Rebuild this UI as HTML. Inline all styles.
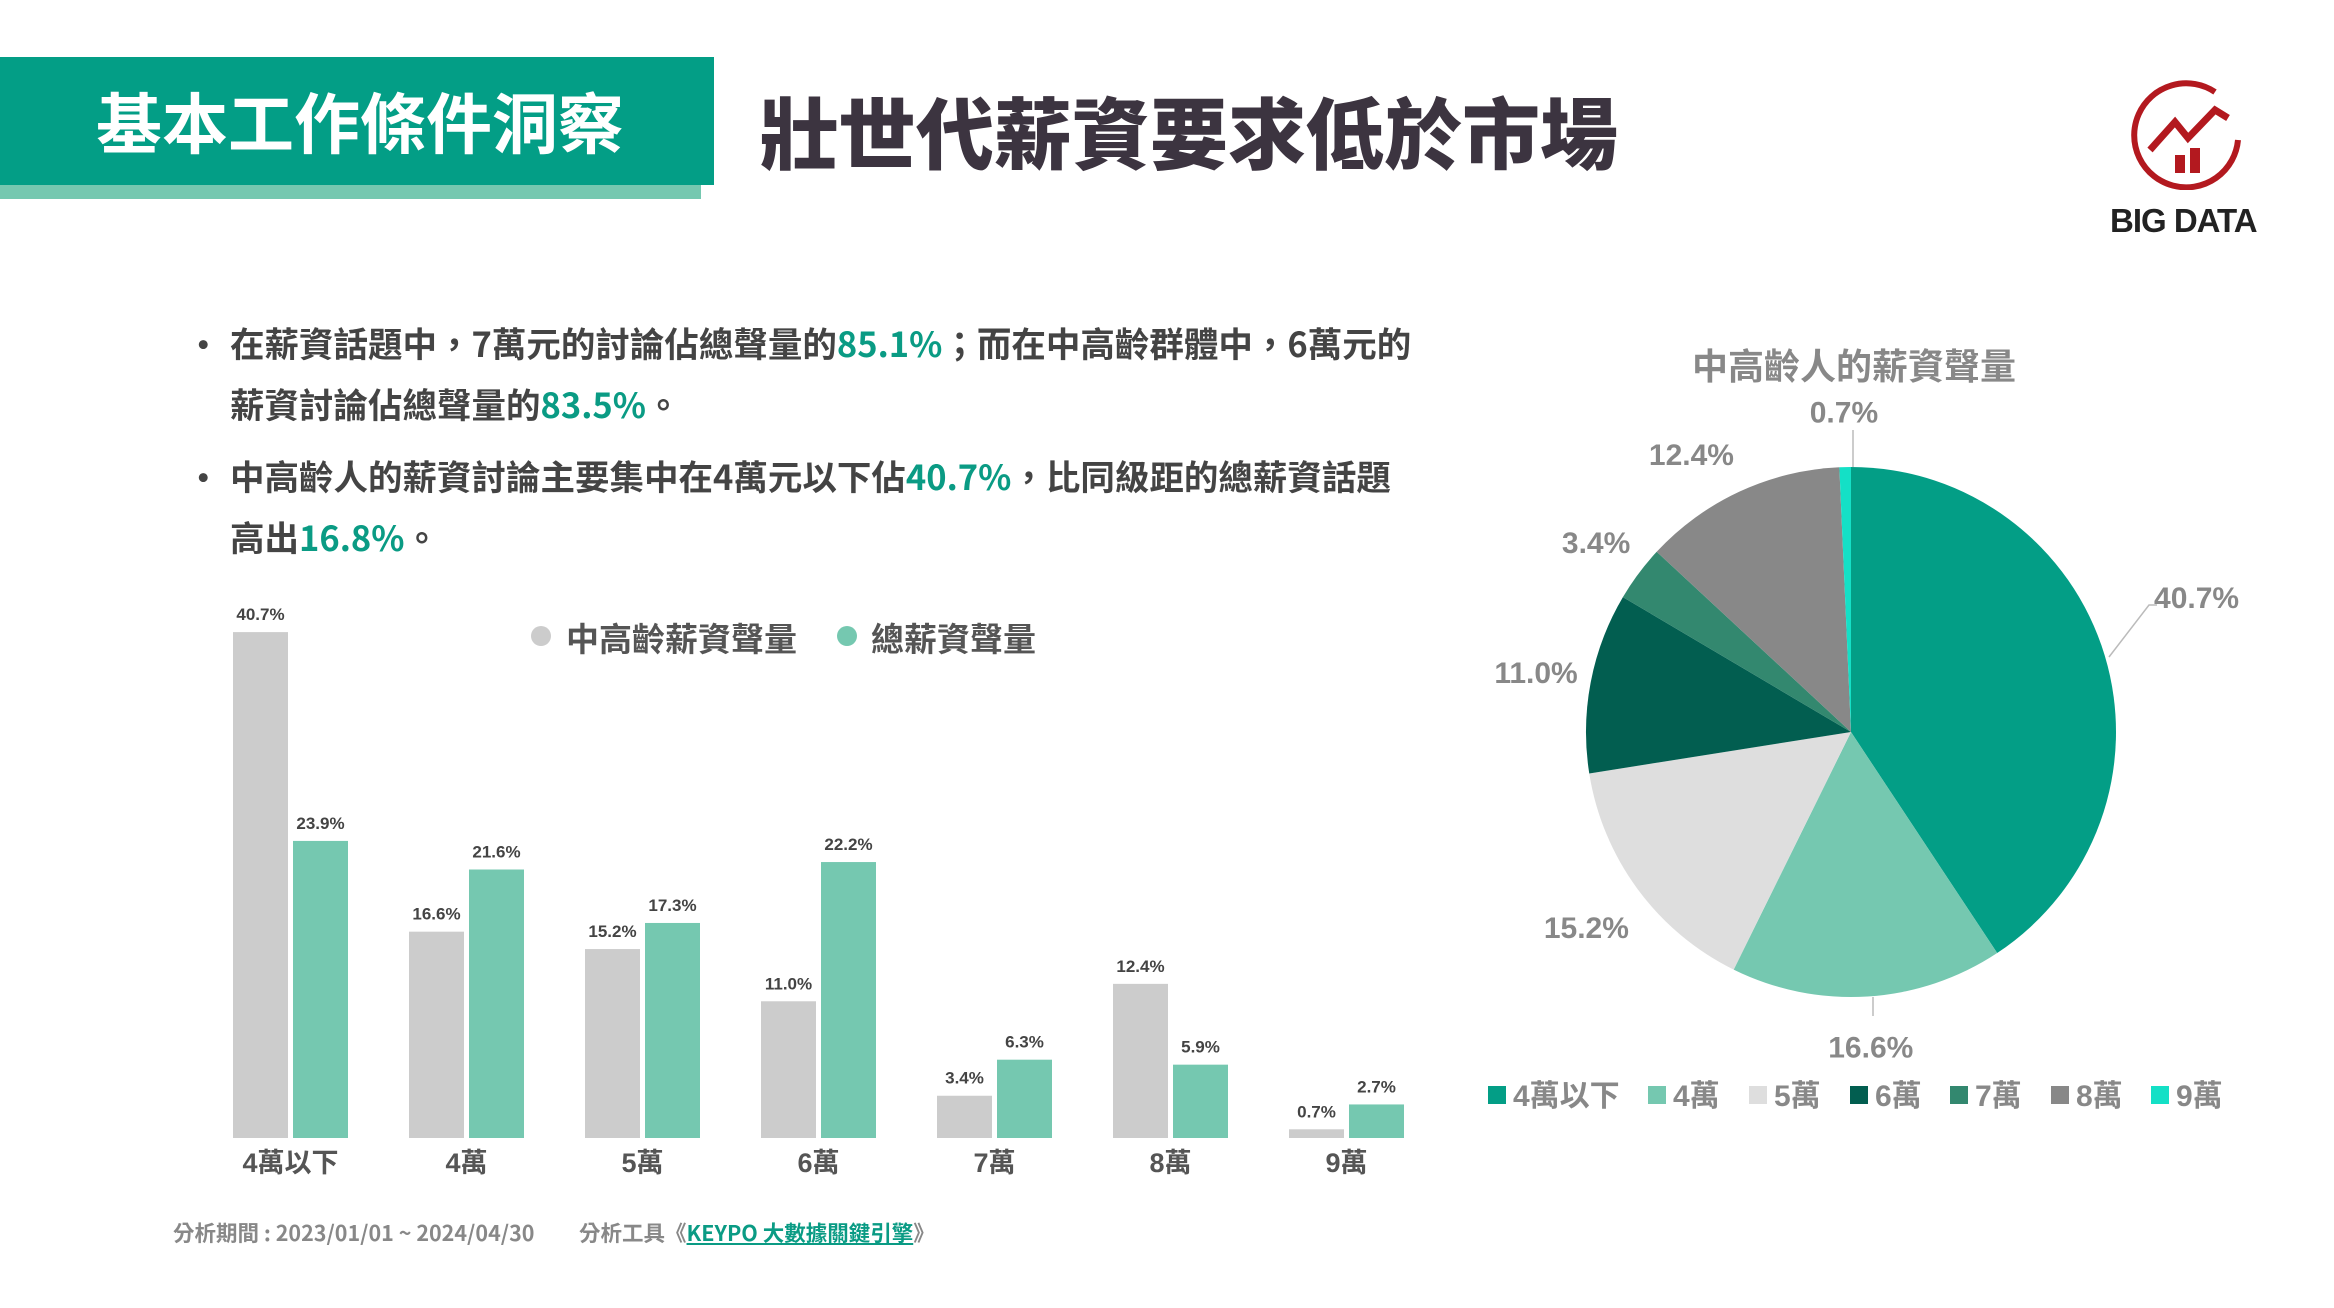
<!DOCTYPE html>
<html><head><meta charset="utf-8"><style>
body{margin:0;width:2334px;height:1308px;background:#fff;overflow:hidden;position:relative;font-family:"Liberation Sans","Noto Sans CJK TC",sans-serif;}
.a{position:absolute;white-space:nowrap}
.g{color:#0a9b84}
</style></head><body>
<div class="a" style="left:0;top:57px;width:714px;height:128px;background:#039e86"></div>
<div class="a" style="left:0;top:185px;width:701px;height:14px;background:#75c8b0"></div>
<div class="a" style="left:96px;top:80px;font-size:66px;font-weight:bold;color:#fff;line-height:80px;font-family:'Noto Sans CJK TC',sans-serif">基本工作條件洞察</div>
<div class="a" style="left:760px;top:82px;font-size:78px;font-weight:900;color:#3c3440;line-height:96px;font-family:'Noto Sans CJK TC',sans-serif">壯世代薪資要求低於市場</div>
<svg class="a" style="left:2130px;top:80px" width="120" height="110" viewBox="0 0 120 110">
<path d="M85 12 A52 52 0 1 0 108 60" fill="none" stroke="#b3191f" stroke-width="6"/>
<path d="M20 70 L45 42 L58 58 L85 30 L98 38" fill="none" stroke="#b3191f" stroke-width="7"/>
<rect x="45" y="75" width="10" height="18" fill="#b3191f"/><rect x="60" y="68" width="10" height="25" fill="#b3191f"/>
</svg>
<div class="a" style="left:2110px;top:202px;font-size:33px;color:#222;letter-spacing:-1px;font-weight:bold">BIG DATA</div>

<div style="font-family:'Noto Sans CJK TC',sans-serif;font-weight:bold;color:#444;font-size:34.5px">
<div class="a" style="left:186px;top:318px">•</div>
<div class="a" style="left:230px;top:317px">在薪資話題中，7萬元的討論佔總聲量的<span class="g">85.1%</span>；而在中高齡群體中，6萬元的</div>
<div class="a" style="left:230px;top:378px">薪資討論佔總聲量的<span class="g">83.5%</span>。</div>
<div class="a" style="left:186px;top:451px">•</div>
<div class="a" style="left:230px;top:450px">中高齡人的薪資討論主要集中在4萬元以下佔<span class="g">40.7%</span>，比同級距的總薪資話題</div>
<div class="a" style="left:230px;top:511px">高出<span class="g">16.8%</span>。</div>
</div>

<svg id="bar" class="a" style="left:0;top:0" width="1420" height="1308"></svg>
<div class="a" style="left:173px;top:1217px;font-size:21.5px;color:#888;font-weight:bold;font-family:'Noto Sans CJK TC',sans-serif">分析期間 : 2023/01/01 ~ 2024/04/30</div>
<div class="a" style="left:579px;top:1217px;font-size:21.5px;color:#888;font-weight:bold;font-family:'Noto Sans CJK TC',sans-serif">分析工具《<span style="color:#0a9b84;text-decoration:underline">KEYPO 大數據關鍵引擎</span>》</div>

<svg id="pie" class="a" style="left:1420px;top:300px" width="914" height="860"></svg>

<script>
const NS='http://www.w3.org/2000/svg';
function mk(p,t,a){const e=document.createElementNS(NS,t);for(const k in a)e.setAttribute(k,a[k]);p.appendChild(e);return e;}
const categories=['4萬以下','4萬','5萬','6萬','7萬','8萬','9萬'];
const seniorValues=[40.7,16.6,15.2,11.0,3.4,12.4,0.7];
const totalValues=[23.9,21.6,17.3,22.2,6.3,5.9,2.7];
const seriesNames=['中高齡薪資聲量','總薪資聲量'];
const pieValues=[40.7,16.6,15.2,11.0,3.4,12.4,0.7];
const pieColors=['#039e86','#75c8b0','#dedede','#025e50','#33886f','#888888','#14e0c6'];

const bar=document.getElementById('bar');
const base=1138,pxPer=12.43,x0=233,step=176,bw=55;
const yS=v=>base-v*pxPer, xS=i=>x0+i*step;
const F="'Liberation Sans','Noto Sans CJK TC',sans-serif";
categories.forEach((c,i)=>{
  [[seniorValues[i],'#cccccc',0],[totalValues[i],'#75c8b0',bw+5]].forEach(([v,col,off],s)=>{
    const r=mk(bar,'rect',{x:xS(i)+off,y:yS(v),width:bw,height:v*pxPer,fill:col});
    
    
    const t=mk(bar,'text',{x:xS(i)+off+bw/2,y:yS(v)-12,'text-anchor':'middle','font-size':17,'font-weight':'bold',fill:'#444','font-family':F});
    t.textContent=v.toFixed(1)+'%';
    
    
  });
  const l=mk(bar,'text',{x:xS(i)+bw+2.5,y:1172,'text-anchor':'middle','font-size':27,'font-weight':'bold',fill:'#555','font-family':F});
  l.textContent=c;
  
  
});
[[541,566,'#cccccc'],[847,871,'#75c8b0']].forEach(([cx,tx,col],k)=>{
  const d=mk(bar,'circle',{cx:cx,cy:636,r:10,fill:col});
  
  
  const t=mk(bar,'text',{x:tx,y:651,'font-size':33,'font-weight':'bold',fill:'#555','font-family':F});
  t.textContent=seriesNames[k];
  
  
});

const pie=document.getElementById('pie');
const cx=431,cy=432,R=265;
const tt=mk(pie,'text',{x:434,y:79,'text-anchor':'middle','font-size':36,'font-weight':'bold',fill:'#888','font-family':F});
tt.textContent='中高齡人的薪資聲量';


const total=pieValues.reduce((a,b)=>a+b,0);
let ang=0;
const labelR=[1.4,1.19,1.24,1.21,1.2,1.21,1.21];
const labelRot=[-4.6,0,0,0,0,-5,0];
pieValues.forEach((v,i)=>{
  const a0=ang,a1=ang+v/total*2*Math.PI;ang=a1;
  const p=a=>[cx+R*Math.sin(a),cy-R*Math.cos(a)];
  const [x1,y1]=p(a0),[x2,y2]=p(a1);
  const s=mk(pie,'path',{d:`M${cx},${cy}L${x1},${y1}A${R},${R} 0 ${a1-a0>Math.PI?1:0} 1 ${x2},${y2}Z`,fill:pieColors[i]});
  
  
  const m=(a0+a1)/2+labelRot[i]*Math.PI/180,lr=R*labelR[i];
  const lx=cx+lr*Math.sin(m),ly=cy-lr*Math.cos(m);
  const t=mk(pie,'text',{x:lx,y:ly+11,'text-anchor':'middle','font-size':30,'font-weight':'bold',fill:'#888','font-family':F});
  t.textContent=v.toFixed(1)+'%';
  
  
});
mk(pie,'path',{d:'M689,357 L729,305 L737,305',stroke:'#bbb',fill:'none','stroke-width':1.5});
mk(pie,'path',{d:'M453,697 L453,716',stroke:'#bbb','stroke-width':1.5});
mk(pie,'path',{d:'M433,167 L433,130',stroke:'#bbb','stroke-width':1.5});
const lx=[68,228,329,430,530,631,731],names=['4萬以下','4萬','5萬','6萬','7萬','8萬','9萬'];
names.forEach((n,i)=>{
  const r=mk(pie,'rect',{x:lx[i],y:786,width:18,height:18,fill:pieColors[i]});
  
  
  const t=mk(pie,'text',{x:lx[i]+25,y:806,'font-size':30,'font-weight':'bold',fill:'#888','font-family':F});
  t.textContent=n;
  
  
});
</script>
</body></html>
